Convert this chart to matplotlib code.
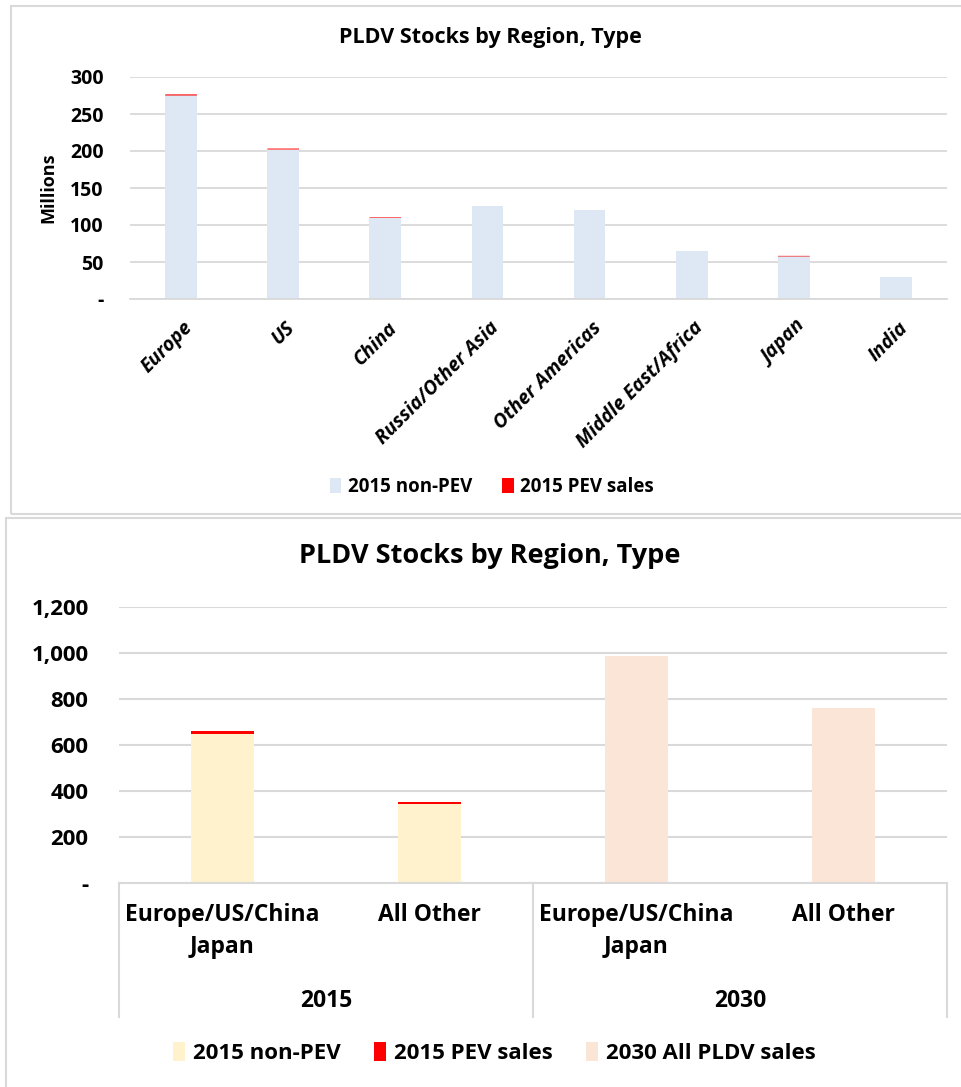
import matplotlib
matplotlib.use("Agg")
import matplotlib.pyplot as plt
import matplotlib.transforms as mtransforms
from matplotlib.patches import Rectangle, Patch
from matplotlib.lines import Line2D
import numpy as np

# ---------------- data ----------------
regions = ["Europe", "US", "China", "Russia/Other Asia", "Other Americas",
           "Middle East/Africa", "Japan", "India"]
non_pev_2015 = [275, 202, 110, 126, 120, 65, 57.5, 30]
pev_2015 = [1.5, 1.3, 0.8, 0, 0, 0, 0.8, 0]

groups = ["Europe/US/China\nJapan", "All Other", "Europe/US/China\nJapan", "All Other"]
years = ["2015", "2030"]
g_non_pev_2015 = [650, 342, 0, 0]
g_pev_2015 = [9, 9, 0, 0]
g_all_2030 = [0, 0, 985, 760]

top_yticks = [0, 50, 100, 150, 200, 250, 300]
top_yticklabels = ["-", "50", "100", "150", "200", "250", "300"]
bot_yticks = [0, 200, 400, 600, 800, 1000, 1200]
bot_yticklabels = ["-", "200", "400", "600", "800", "1,000", "1,200"]

title = "PLDV Stocks by Region, Type"

# ---------------- style ----------------
W, H = 961, 1087
FONT = "Open Sans"
plt.rcParams["font.family"] = [FONT, "DejaVu Sans"]
plt.rcParams["font.weight"] = "bold"
GRID = "#d9d9d9"
BLUE = "#dde8f4"
RED = "#ff0000"
YEL = "#fff2cc"
PEACH = "#fbe5d6"

fig = plt.figure(figsize=(W / 100, H / 100), dpi=100)


def fx(px):
    return px / W


def fy(py):
    return 1 - py / H


# chart borders
fig.patches.append(Rectangle((fx(11), fy(514)), fx(1000) - fx(11), fy(6) - fy(514),
                             transform=fig.transFigure, fill=False, edgecolor=GRID, lw=1.5))
fig.patches.append(Rectangle((fx(6), fy(1100)), fx(1000) - fx(6), fy(518) - fy(1100),
                             transform=fig.transFigure, fill=False, edgecolor=GRID, lw=1.5))

# ---------------- top chart ----------------
ax1 = fig.add_axes([fx(130), fy(299), fx(947) - fx(130), fy(77) - fy(299)])
x = np.arange(len(regions))
ax1.bar(x, non_pev_2015, width=0.31, color=BLUE, zorder=2, linewidth=0)
ax1.bar(x, pev_2015, width=0.31, bottom=non_pev_2015, color=RED, zorder=2, linewidth=0,
        snap=False)
ax1.set_xlim(-0.5, len(regions) - 0.5)
ax1.set_ylim(0, 300)
ax1.set_yticks(top_yticks)
ax1.set_yticklabels(top_yticklabels, fontsize=14, fontweight="bold")
ax1.yaxis.grid(True, color=GRID, lw=1.3, zorder=0)
ax1.set_axisbelow(True)
for s in ["top", "right", "left"]:
    ax1.spines[s].set_visible(False)
ax1.spines["bottom"].set_color(GRID)
ax1.spines["bottom"].set_linewidth(1.3)
ax1.tick_params(axis="both", length=0)
ax1.tick_params(axis="y", pad=19)
ax1.set_xticks(x)
ax1.set_xticklabels(regions, rotation=45, ha="right", va="center",
                    rotation_mode="anchor", fontsize=14, fontweight="bold", style="italic")
offset = mtransforms.ScaledTranslation(9 / 100, -21 / 100, fig.dpi_scale_trans)
for lab in ax1.get_xticklabels():
    lab.set_transform(lab.get_transform() + offset)
ax1.set_ylabel("Millions", fontsize=13, fontweight="bold")
ax1.yaxis.set_label_coords((fx(57) - fx(130)) / (fx(947) - fx(130)), 0.5)
fig.text(fx(490), fy(38), title, ha="center", va="center", fontsize=15.5, fontweight="bold")

h1 = [Patch(facecolor=BLUE), Patch(facecolor=RED)]
fig.legend(h1, ["2015 non-PEV", "2015 PEV sales"], loc="center",
           bbox_to_anchor=(fx(492), fy(487)), ncol=2, frameon=False,
           prop={"size": 13.5, "weight": "bold"}, handlelength=0.6, handleheight=0.9,
           handletextpad=0.35, columnspacing=1.6)

# ---------------- bottom chart ----------------
ax2 = fig.add_axes([fx(119), fy(883), fx(947) - fx(119), fy(607) - fy(883)])
xg = np.arange(len(groups))
ax2.bar(xg, g_non_pev_2015, width=0.305, color=YEL, zorder=2, linewidth=0)
ax2.bar(xg, g_pev_2015, width=0.305, bottom=g_non_pev_2015, color=RED, zorder=2, linewidth=0)
ax2.bar(xg, g_all_2030, width=0.305, color=PEACH, zorder=2, linewidth=0)
ax2.set_xlim(-0.5, len(groups) - 0.5)
ax2.set_ylim(0, 1200)
ax2.set_yticks(bot_yticks)
ax2.set_yticklabels(bot_yticklabels, fontsize=16, fontweight="bold")
ax2.yaxis.grid(True, color=GRID, lw=1.5, zorder=0)
ax2.set_axisbelow(True)
for s in ["top", "right", "left"]:
    ax2.spines[s].set_visible(False)
ax2.spines["bottom"].set_color(GRID)
ax2.spines["bottom"].set_linewidth(1.5)
ax2.tick_params(axis="both", length=0)
ax2.tick_params(axis="y", pad=22)
ax2.set_xticks([])

axh = fy(607) - fy(883)


def ay(py):
    return -(py - 883) / H / axh


bt = mtransforms.blended_transform_factory(ax2.transData, ax2.transAxes)
for xs in [-0.5, 1.5, 3.5]:
    ax2.add_line(Line2D([xs, xs], [0, ay(1017)], transform=bt, color=GRID, lw=1.5,
                        clip_on=False))
for i, g in enumerate(groups):
    ax2.text(i, ay(903), g, transform=bt, ha="center", va="top", fontsize=16.5,
             fontweight="bold", linespacing=1.45)
for j, yr in enumerate(years):
    ax2.text(2 * j + 0.5, ay(1001), yr, transform=bt, ha="center", va="center",
             fontsize=16.5, fontweight="bold")
fig.text(fx(490), fy(556), title, ha="center", va="center", fontsize=19.5, fontweight="bold")

h2 = [Patch(facecolor=YEL), Patch(facecolor=RED), Patch(facecolor=PEACH)]
fig.legend(h2, ["2015 non-PEV", "2015 PEV sales", "2030 All PLDV sales"], loc="center",
           bbox_to_anchor=(fx(494), fy(1053)), ncol=3, frameon=False,
           prop={"size": 16, "weight": "bold"}, handlelength=0.55, handleheight=0.9,
           handletextpad=0.35, columnspacing=1.5)

fig.savefig("out.png", dpi=100)
